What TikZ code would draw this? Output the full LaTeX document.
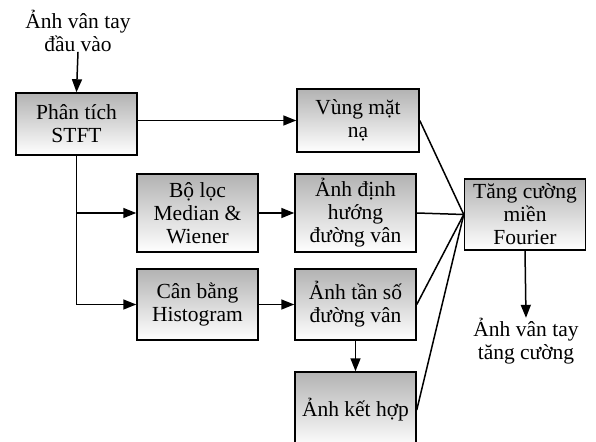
\documentclass[tikz,border=0pt]{standalone}
\usepackage{fontspec}
\setmainfont{Liberation Serif}
\usetikzlibrary{arrows.meta}
\begin{document}
\begin{tikzpicture}[x=1pt,y=-1pt,
  box/.style={draw=black,line width=1.5pt,top color=black!30,bottom color=white,
    minimum width=121pt,inner sep=0pt,align=center,
    font=\fontsize{21.5}{23}\selectfont},
  lbl/.style={align=center,inner sep=0pt,font=\fontsize{21.5}{23}\selectfont},
  arr/.style={line width=1.5pt,-{Triangle[length=13pt,width=10pt]}},
  ln/.style={line width=1.5pt}]
\useasboundingbox (0,0) rectangle (596,441);
\node[lbl] (in) at (78,31) {Ảnh vân tay\\đầu vào};
\node[box,minimum height=62pt] (stft) at (76.5,124) {Phân tích\\STFT};
\node[box,minimum width=122pt,minimum height=63pt] (mask) at (358,120.5) {Vùng mặt\\nạ};
\node[box,minimum height=78pt] (filt) at (197.5,213) {Bộ lọc\\Median \&\\Wiener};
\node[box,minimum height=78pt] (orient) at (355.5,213) {Ảnh định\\hướng\\đường vân};
\node[box,minimum height=71pt] (hist) at (197.5,304.5) {Cân bằng\\Histogram};
\node[box,minimum height=71pt] (freq) at (355.5,304.5) {Ảnh tần số\\đường vân};
\node[box,minimum height=76pt] (comb) at (355.5,410) {Ảnh kết hợp};
\node[box,minimum height=71pt] (four) at (525,214.5) {Tăng cường\\miền\\Fourier};
\node[lbl] (out) at (526,341) {Ảnh vân tay\\tăng cường};
\coordinate (j1) at (stft.south |- filt.west);
\coordinate (j2) at (stft.south |- hist.west);
\draw[arr] (in.south) -- (stft.north);
\draw[arr] (stft.east |- mask.west) -- (mask.west);
\draw[ln] (stft.south) -- (j2);
\draw[arr] (j1) -- (filt.west);
\draw[arr] (j2) -- (hist.west);
\draw[arr] (filt.east) -- (orient.west);
\draw[arr] (hist.east) -- (freq.west);
\draw[arr] (freq.south) -- (comb.north);
\draw[ln] (mask.east) -- (four.west);
\draw[ln] (orient.east) -- (four.west);
\draw[ln] (freq.east) -- (four.west);
\draw[ln] (comb.east) -- (four.west);
\draw[arr] (four.south) -- (out.north);
\end{tikzpicture}
\end{document}
